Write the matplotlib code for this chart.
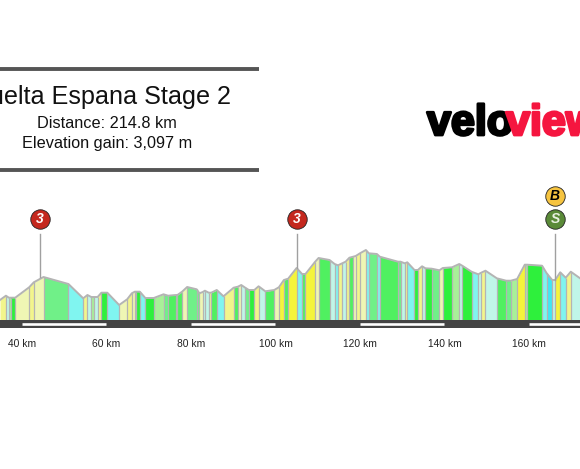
import matplotlib
matplotlib.use("Agg")
import matplotlib.pyplot as plt
import matplotlib.patheffects as pe

plt.rcParams['font.family'] = ['Liberation Sans', 'DejaVu Sans']

km = [34.8,36.2,36.9,37.4,38.4,41.7,42.8,45.1,51.0,54.5,55.5,56.4,57.0,57.9,58.8,60.2,63.0,64.9,66.0,66.7,
      67.1,67.9,69.2,71.2,73.5,74.6,76.5,76.8,77.9,79.1,81.35,82.0,82.8,83.3,84.2,84.8,86.1,87.7,90.1,91.1,
      91.9,92.7,93.7,95.0,96.0,97.6,99.7,100.8,102.0,103.0,105.0,106.3,107.1,109.4,110.2,112.8,114.0,114.8,115.8,116.6,
      117.5,118.4,119.0,120.0,121.4,122.1,124.0,124.7,129.0,129.6,130.6,131.2,132.9,133.7,134.7,135.5,137.0,138.8,139.6,141.8,
      143.5,144.2,146.4,148.0,148.7,149.7,152.4,154.6,155.7,157.2,159.0,159.6,163.1,164.2,165.5,166.2,167.4,168.7,169.9,172.1]
elev = [200,243,223,223,223,327,377,430,360,217,250,230,230,230,273,273,150,207,267,283,
        283,283,220,220,257,243,250,250,283,330,307,267,280,293,273,273,300,237,323,333,
        350,327,300,300,337,287,300,327,400,413,520,460,460,583,620,600,560,547,567,583,
        623,633,640,667,700,667,660,633,583,583,567,577,500,500,537,517,513,497,520,527,
        560,543,483,457,473,493,417,393,393,410,553,553,543,467,400,400,477,423,483,417]
grade = list("ylagpypLcy" "lalygcpypa" "gcgaLGpGpL" "LpllyGcyGp" "lLgylGpYGY"
             "cGYpGlcyly" "GpypcLcGLl" "ycgylgLpga" "lgclylGLaY" "agcClYcyl")

climb_km = [44.3, 105.0]
climb_labels = ["3", "3"]
sprint_km = [166.2]
tick_km = [40, 60, 80, 100, 120, 140, 160]
tick_labels = ["40 km", "60 km", "80 km", "100 km", "120 km", "140 km", "160 km"]
stripe_starts = [40, 80, 120, 160]
stripe_length = 20

title = "Vuelta Espana Stage 2"
subtitle = ["Distance: 214.8 km", "Elevation gain: 3,097 m"]

palette = {'Y': '#f4f43c', 'y': '#f2f58c', 'p': '#eff6b4', 'c': '#80f5f0', 'C': '#40e6f5',
           'l': '#c0f6e8', 'g': '#2ef03c', 'G': '#50f060', 'L': '#70f088', 'a': '#a8f098'}
GREY = '#b4b4b4'
W, H = 580, 469

fig = plt.figure(figsize=(W / 100, H / 100), dpi=100, facecolor='white')
ax = fig.add_axes([0, (H - 328) / H, 1, 328 / H])
ax.set_xlim(34.8, 34.8 + W / 4.225)
ax.set_ylim(-80, 3200)
for s in ax.spines.values():
    s.set_visible(False)
ax.set_yticks([])
ax.set_xticks(tick_km, tick_labels, fontsize=7.4, color='#222222')
ax.tick_params(axis='x', length=0, pad=8)

n = min(len(grade), len(km) - 1)
for i in range(n):
    ax.fill_between(km[i:i + 2], elev[i:i + 2], 0, color=palette[grade[i]], lw=0, zorder=2)
ax.vlines(km[1:-1], 0, elev[1:-1], color=GREY, lw=0.9, zorder=3)
ax.plot(km, elev, color=GREY, lw=1.4, zorder=4)

ax.axhspan(-80, 0, color='#444444', lw=0, zorder=5)
for s0 in stripe_starts:
    ax.plot([s0, s0 + stripe_length], [-40, -40], color='white', lw=1.9, solid_capstyle='butt', zorder=6)

def badge(x, y, color, txt, tc='white'):
    ax.plot([x], [y], 'o', ms=14, mfc=color, mec='#222222', mew=0.6, zorder=8)
    ax.text(x, y - 4, txt, color=tc, fontsize=10, fontweight='bold', fontstyle='italic',
            ha='center', va='center', zorder=9)

for x, lab in zip(climb_km, climb_labels):
    top = elev[min(range(len(km)), key=lambda j: abs(km[j] - x))]
    ax.plot([x, x], [top, 860], color='#a0a0a0', lw=1.0, zorder=7)
    badge(x, 1010, '#c4281e', lab)
for x in sprint_km:
    ax.plot([x, x], [400, 860], color='#a0a0a0', lw=1.0, zorder=7)
    badge(x, 1010, '#5a8a38', 'S', tc='#e8f0e0')
    badge(x, 1240, '#f6c440', 'B', tc='black')

def fx(p):
    return p / W
def fy(p):
    return 1 - p / H

for y in (69, 170):
    fig.add_artist(plt.Line2D([0, fx(259)], [fy(y), fy(y)], color='#555555', lw=2.8, solid_capstyle='butt'))
fig.text(fx(231), fy(104), title, ha='right', va='baseline', fontsize=18.1, color='#111111')
fig.text(fx(107), fy(128), subtitle[0], ha='center', va='baseline', fontsize=11.7, color='#111111')
fig.text(fx(107), fy(148), subtitle[1], ha='center', va='baseline', fontsize=11.7, color='#111111')

fig.text(fx(427), fy(135), "velo", fontsize=31, fontweight='bold', color='black',
         va='baseline', path_effects=[pe.withStroke(linewidth=2, foreground='black')])
fig.text(fx(506), fy(135), "view", fontsize=31, fontweight='bold', color='#f5153f',
         va='baseline', path_effects=[pe.withStroke(linewidth=2, foreground='#f5153f')])

fig.savefig('out.png', dpi=100)
